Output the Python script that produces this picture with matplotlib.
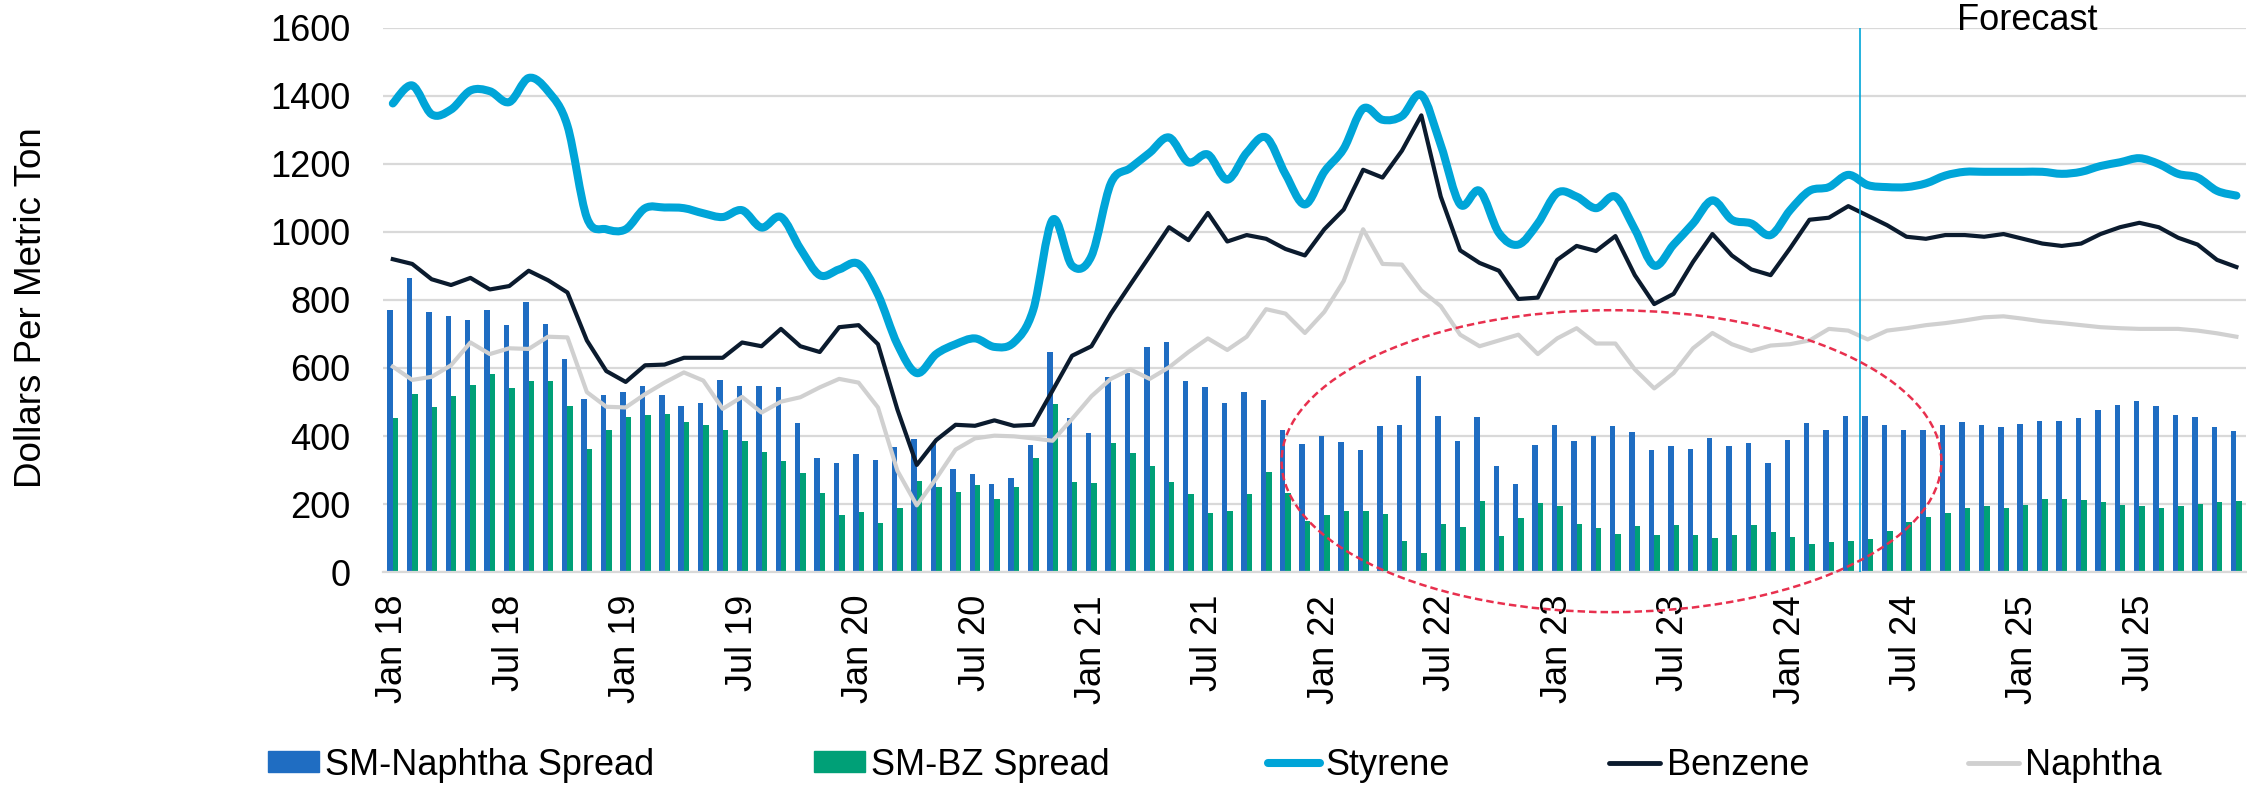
import matplotlib
matplotlib.use('Agg')
import matplotlib.pyplot as plt
from matplotlib.patches import Ellipse, Patch, PathPatch
from matplotlib.path import Path
from matplotlib.lines import Line2D
import numpy as np

plt.rcParams['font.family'] = ['Liberation Sans', 'DejaVu Sans']

# monthly categories Jan 2018 .. Dec 2025
months = [f"{m} {y}" for y in range(18, 26) for m in
          ['Jan', 'Feb', 'Mar', 'Apr', 'May', 'Jun', 'Jul', 'Aug', 'Sep', 'Oct', 'Nov', 'Dec']]
tick_labels = [m for m in months if m.startswith(('Jan', 'Jul'))]

sm_naphtha = [771, 865, 765, 752, 742, 771, 725, 794, 728, 625, 510, 520,
              529, 546, 520, 487, 498, 565, 546, 546, 543, 437, 335, 322,
              347, 330, 369, 390, 376, 304, 289, 260, 277, 373, 646, 453,
              410, 573, 585, 663, 675, 561, 543, 498, 528, 505, 417, 376,
              401, 383, 359, 428, 433, 577, 459, 386, 455, 313, 260, 373,
              431, 386, 401, 428, 413, 359, 372, 362, 395, 370, 379, 322,
              388, 437, 419, 459, 458, 431, 417, 419, 432, 441, 431, 427,
              434, 444, 443, 453, 475, 492, 502, 488, 463, 457, 425, 414]

sm_bz = [453, 523, 484, 517, 551, 582, 541, 563, 563, 489, 363, 419,
         455, 461, 464, 442, 431, 419, 386, 354, 327, 291, 231, 167,
         176, 143, 188, 268, 250, 236, 255, 216, 249, 336, 494, 266,
         262, 379, 349, 311, 264, 230, 174, 180, 229, 295, 233, 151,
         168, 179, 180, 172, 92, 55, 140, 133, 210, 106, 158, 204,
         194, 141, 130, 113, 134, 110, 138, 108, 101, 108, 138, 118,
         104, 81, 89, 90, 97, 120, 148, 162, 174, 189, 194, 187,
         198, 215, 215, 213, 205, 196, 193, 187, 195, 201, 206, 210]

styrene = [1378, 1431, 1346, 1360, 1416, 1414, 1382, 1453, 1414, 1312, 1042, 1008,
           1008, 1070, 1072, 1070, 1055, 1044, 1064, 1013, 1044, 951, 873, 890,
           906, 816, 670, 585, 641, 670, 687, 662, 675, 771, 1036, 901,
           929, 1143, 1188, 1233, 1278, 1205, 1228, 1154, 1233, 1278, 1170, 1081,
           1177, 1245, 1363, 1330, 1341, 1403, 1256, 1081, 1121, 997, 963, 1025,
           1115, 1104, 1070, 1104, 1008, 901, 963, 1025, 1093, 1036, 1025, 991,
           1064, 1121, 1132, 1168, 1138, 1132, 1132, 1143, 1166, 1177, 1177, 1177,
           1177, 1177, 1171, 1177, 1194, 1205, 1217, 1200, 1171, 1160, 1121, 1107]

benzene = [920, 906, 861, 844, 865, 831, 841, 886, 858, 822, 681, 591,
           559, 608, 610, 630, 630, 630, 675, 664, 715, 664, 647, 720,
           726, 670, 478, 315, 388, 433, 430, 446, 430, 433, 534, 636,
           664, 760, 845, 929, 1014, 976, 1056, 972, 991, 980, 950, 931,
           1008, 1066, 1183, 1160, 1239, 1343, 1104, 946, 909, 886, 803, 807,
           918, 959, 944, 988, 873, 788, 818, 912, 994, 931, 890, 873,
           952, 1036, 1042, 1076, 1048, 1020, 986, 980, 991, 991, 986, 994,
           980, 966, 959, 966, 994, 1014, 1027, 1014, 983, 963, 918, 897]

naphtha = [604, 565, 574, 608, 675, 641, 658, 656, 692, 690, 529, 486,
           484, 523, 557, 587, 563, 480, 515, 469, 501, 514, 543, 568,
           557, 484, 298, 196, 275, 360, 393, 401, 399, 393, 386, 450,
           517, 568, 596, 568, 602, 647, 687, 653, 692, 773, 760, 703,
           765, 856, 1008, 906, 904, 828, 782, 698, 664, 681, 698, 641,
           687, 717, 672, 672, 596, 540, 585, 658, 703, 670, 650, 666,
           670, 681, 715, 710, 684, 710, 717, 726, 732, 740, 749, 752,
           745, 737, 732, 726, 720, 717, 715, 715, 715, 710, 702, 692]

C_BLUE = '#1F6DC2'
C_GREEN = '#00A077'
C_STY = '#00A5D8'
C_BZ = '#0B1B2E'
C_NAP = '#D0D0D0'
C_RED = '#E8304E'


def smooth_path(xs, ys):
    # Excel-style smoothed line: cubic Bezier between the data points
    p = np.column_stack([xs, ys]).astype(float)
    n = len(p)
    verts = [p[0]]
    codes = [Path.MOVETO]
    for i in range(n - 1):
        p0 = p[max(i - 1, 0)]
        p3 = p[min(i + 2, n - 1)]
        c1 = p[i] + (p[i + 1] - p0) / 6
        c2 = p[i + 1] - (p3 - p[i]) / 6
        verts += [c1, c2, p[i + 1]]
        codes += [Path.CURVE4] * 3
    return Path(verts, codes)


x = np.arange(len(months))

fig = plt.figure(figsize=(22.47, 7.88), dpi=100)
ax = fig.add_axes([0.1705, 0.2741, 0.8291, 0.6904])

ax.bar(x - 0.14, sm_naphtha, width=0.28, color=C_BLUE, zorder=2)
ax.bar(x + 0.14, sm_bz, width=0.28, color=C_GREEN, zorder=2)
ax.plot(x, naphtha, color=C_NAP, lw=3.0, solid_joinstyle='round', zorder=3)
ax.plot(x, benzene, color=C_BZ, lw=3.0, solid_joinstyle='round', zorder=4)
ax.add_patch(PathPatch(smooth_path(x, styrene), fill=False, edgecolor=C_STY, lw=5.8,
                       capstyle='round', joinstyle='round', zorder=5))

# forecast divider and label
ax.axvline(75.6, color=C_STY, lw=1.2, zorder=6)
ax.text(84.2, 1622, 'Forecast', fontsize=26, ha='center', va='center', clip_on=False)

# highlight ellipse
ax.add_patch(Ellipse((62.8, 326), width=34, height=888, fill=False, edgecolor=C_RED,
                     lw=1.8, linestyle=(0, (3, 1.6)), clip_on=False, zorder=7))

ax.set_xlim(-0.5, 95.5)
ax.set_ylim(0, 1600)
ax.set_yticks(range(0, 1601, 200))
ax.set_xticks([i for i, m in enumerate(months) if m in tick_labels])
ax.set_xticklabels(tick_labels, rotation=90)
ax.tick_params(axis='y', length=0, pad=23.5, labelsize=26)
ax.tick_params(axis='x', length=0, pad=16.5, labelsize=26)
ax.grid(axis='y', color='#D9D9D9', lw=1.6, zorder=0)
ax.set_axisbelow(True)
for s in ['top', 'right', 'left']:
    ax.spines[s].set_visible(False)
ax.spines['bottom'].set_color('#D9D9D9')
ax.spines['bottom'].set_linewidth(1.6)

fig.text(32 / 2247, 1 - 308 / 788, 'Dollars Per Metric Ton', rotation=90,
         fontsize=26.5, ha='center', va='center')

handles = [Patch(color=C_BLUE), Patch(color=C_GREEN),
           Line2D([], [], color=C_STY, lw=5.8, solid_capstyle='round'),
           Line2D([], [], color=C_BZ, lw=3.5, solid_capstyle='round'),
           Line2D([], [], color=C_NAP, lw=3.5, solid_capstyle='round')]
labels = ['SM-Naphtha Spread', 'SM-BZ Spread', 'Styrene', 'Benzene', 'Naphtha']
fig.legend(handles, labels, loc='center', bbox_to_anchor=(0.5407, 0.029), ncol=5,
           frameon=False, fontsize=26, handlelength=1.42, handleheight=0.53,
           handletextpad=0.17, columnspacing=4.4, borderpad=0, borderaxespad=0)

fig.savefig('out.png', dpi=100)
